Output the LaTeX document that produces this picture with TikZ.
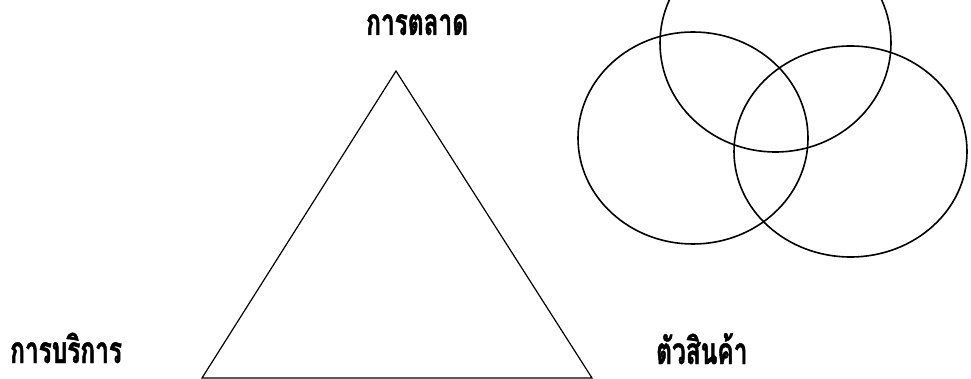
\documentclass[tikz,border=0pt]{standalone}
\usepackage{fontspec}
\newfontfamily\thaifont[Script=Thai,FakeStretch=0.66,FakeBold=1.2]{Loma}
\begin{document}
\begin{tikzpicture}[x=1pt,y=-1pt,
  lbl/.style={inner sep=0pt,anchor=base west,font=\thaifont\bfseries\fontsize{37}{40}\selectfont},
  venn/.style={draw=black,line width=1.6pt},
  tri/.style={draw=black,line width=1.2pt,line join=miter}]
\useasboundingbox (0,0) rectangle (971,379);
\clip (0,0) rectangle (971,379);
\fill[white] (0,0) rectangle (971,379);
% triangle
\coordinate (apex) at (396,71);
\coordinate (bl) at (202,378);
\coordinate (br) at (592,378);
\draw[tri] (apex) -- (bl) -- (br) -- cycle;
% labels
\node[lbl] (marketing) at (366,35) {การตลาด};
\node[lbl] (service) at (10,363) {การบริการ};
\node[lbl] (product) at (656,364) {ตัวสินค้า};
% venn circles
\draw[venn] (775.5,43) ellipse [x radius=115.5pt, y radius=109pt];
\draw[venn] (693,138) ellipse [x radius=115pt, y radius=106pt];
\draw[venn] (850.5,151.5) ellipse [x radius=116.5pt, y radius=105.5pt];
\end{tikzpicture}
\end{document}
